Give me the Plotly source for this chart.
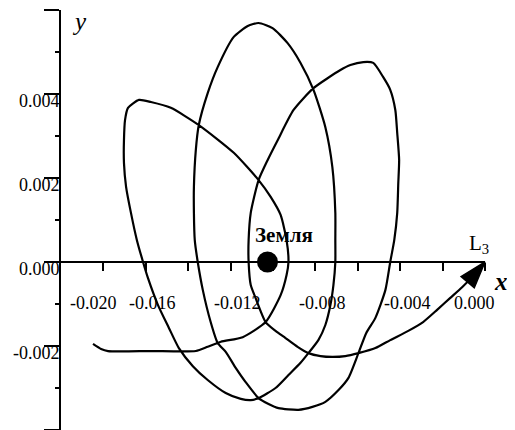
import plotly.graph_objects as go

# ---- data ----
traj_x = [-0.01849, -0.01811, -0.01778, -0.01576, -0.01364, -0.01308, -0.01246, -0.01143,
          -0.01035, -0.00964, -0.00936, -0.00927, -0.00936, -0.00964, -0.01011, -0.01068,
          -0.01185, -0.01350, -0.01482, -0.01576, -0.01632, -0.01684, -0.01698, -0.01703,
          -0.01703, -0.01693, -0.01670, -0.01642, -0.01613, -0.01590, -0.01543, -0.01491,
          -0.01444, -0.01378, -0.01308, -0.01223, -0.01152, -0.01105, -0.01068, -0.00988,
          -0.00927, -0.00870, -0.00833, -0.00786, -0.00753, -0.00729, -0.00715, -0.00706,
          -0.00706, -0.00706, -0.00720, -0.00753, -0.00809, -0.00870, -0.00931, -0.01002,
          -0.01068, -0.01119, -0.01185, -0.01261, -0.01308, -0.01350, -0.01364, -0.01373,
          -0.01373, -0.01369, -0.01355, -0.01331, -0.01294, -0.01261, -0.01223, -0.01176,
          -0.01129, -0.01068, -0.01021, -0.00974, -0.00880, -0.00814, -0.00753, -0.00691,
          -0.00644, -0.00597, -0.00560, -0.00517, -0.00470, -0.00447, -0.00428, -0.00414,
          -0.00409, -0.00405, -0.00414, -0.00423, -0.00447, -0.00480, -0.00527, -0.00574,
          -0.00635, -0.00682, -0.00809, -0.00903, -0.00978, -0.01025, -0.01068, -0.01105,
          -0.01115, -0.01115, -0.01105, -0.01082, -0.01035, -0.00988, -0.00941, -0.00884,
          -0.00833, -0.00776, -0.00720, -0.00659, -0.00597, -0.00517, -0.00447, -0.00362,
          -0.00292, -0.00226, -0.00165, -0.00108, -0.00061, 0.00000]
traj_y = [-0.00195, -0.00207, -0.00212, -0.00212, -0.00212, -0.00202, -0.00190, -0.00179,
          -0.00143, -0.00079, -0.00031, 0.00000, 0.00052, 0.00112, 0.00155, 0.00195,
          0.00260, 0.00326, 0.00367, 0.00381, 0.00386, 0.00367, 0.00338, 0.00290,
          0.00236, 0.00179, 0.00117, 0.00052, 0.00000, -0.00038, -0.00102, -0.00157,
          -0.00205, -0.00248, -0.00281, -0.00312, -0.00326, -0.00329, -0.00324, -0.00300,
          -0.00269, -0.00240, -0.00217, -0.00186, -0.00150, -0.00102, -0.00055, 0.00000,
          0.00052, 0.00117, 0.00226, 0.00321, 0.00410, 0.00474, 0.00521, 0.00557,
          0.00569, 0.00562, 0.00536, 0.00464, 0.00402, 0.00326, 0.00267, 0.00179,
          0.00117, 0.00052, 0.00000, -0.00067, -0.00143, -0.00193, -0.00214, -0.00252,
          -0.00286, -0.00324, -0.00338, -0.00348, -0.00352, -0.00345, -0.00333, -0.00305,
          -0.00276, -0.00217, -0.00169, -0.00133, -0.00067, 0.00000, 0.00052, 0.00117,
          0.00188, 0.00243, 0.00307, 0.00362, 0.00410, 0.00440, 0.00474, 0.00476,
          0.00469, 0.00457, 0.00414, 0.00362, 0.00290, 0.00243, 0.00195, 0.00117,
          0.00052, 0.00000, -0.00055, -0.00086, -0.00143, -0.00164, -0.00181, -0.00202,
          -0.00217, -0.00224, -0.00226, -0.00224, -0.00217, -0.00205, -0.00186, -0.00164,
          -0.00143, -0.00114, -0.00086, -0.00060, -0.00036, 0.00000]

earth_x = -0.01026
earth_y = 0.0
earth_label = "Земля"
l3_x = 0.0
l3_y = 0.0
l3_label = "L<sub>3</sub>"

xtick_vals = [-0.018, -0.016, -0.014, -0.012, -0.010, -0.008, -0.006, -0.004, -0.002, 0.000]
xlabel_vals = [-0.020, -0.016, -0.012, -0.008, -0.004, 0.000]
xlabel_text = ["-0.020", "-0.016", "-0.012", "-0.008", "-0.004", "0.000"]
ytick_vals = [-0.004, -0.002, 0.000, 0.002, 0.004, 0.006]
ytick_text = ["-0.004", "-0.002", "0.000", "0.002", "0.004", ""]
yminor_vals = [-0.003, -0.001, 0.001, 0.003, 0.005]

SERIF = "Liberation Serif, Times New Roman, serif"
X_RANGE = [-0.0200, 0.0]
Y_RANGE = [-0.004, 0.006]

fig = go.Figure()
fig.add_trace(go.Scatter(
    x=traj_x, y=traj_y, mode="lines",
    line=dict(color="black", width=2.2, shape="spline", smoothing=0.6),
    hoverinfo="skip", showlegend=False))
# arrow head at the end of the trajectory
fig.add_trace(go.Scatter(
    x=traj_x[-2:], y=traj_y[-2:], mode="markers",
    marker=dict(symbol="arrow", size=[0, 28], angleref="previous", color="#000000",
                opacity=1, line=dict(width=1.5, color="#000000")),
    opacity=1,
    hoverinfo="skip", showlegend=False, cliponaxis=False))
# Earth
fig.add_trace(go.Scatter(
    x=[earth_x], y=[earth_y], mode="markers",
    marker=dict(size=21, color="black"),
    hoverinfo="skip", showlegend=False))

annotations = []
n = len(xlabel_vals)
for i, (v, t) in enumerate(zip(xlabel_vals, xlabel_text)):
    if i == 0:
        anchor, shift = "left", 7
    elif i == n - 1:
        anchor, shift = "right", 12
    else:
        anchor, shift = "center", 7
    annotations.append(dict(x=v, y=0, xref="x", yref="y", text=t, showarrow=False,
                            xanchor=anchor, yanchor="middle", xshift=shift, yshift=-41,
                            font=dict(family=SERIF, size=18, color="black")))
annotations.append(dict(x=earth_x, y=earth_y, text="<b>" + earth_label + "</b>", showarrow=False,
                        xanchor="center", yanchor="middle", xshift=17, yshift=27,
                        font=dict(family=SERIF, size=21, color="black")))
annotations.append(dict(x=l3_x, y=l3_y, text=l3_label, showarrow=False,
                        xanchor="center", yanchor="middle", xshift=-6, yshift=18,
                        font=dict(family=SERIF, size=21, color="black")))
annotations.append(dict(x=l3_x, y=l3_y, text="<b><i>x</i></b>", showarrow=False,
                        xanchor="center", yanchor="middle", xshift=16, yshift=-19,
                        font=dict(family=SERIF, size=25, color="black")))
annotations.append(dict(x=X_RANGE[0], y=Y_RANGE[1], text="<i>y</i>", showarrow=False,
                        xanchor="center", yanchor="middle", xshift=18, yshift=-11,
                        font=dict(family=SERIF, size=25, color="black")))

# the page body adds an 8 px offset, so the figure is 8 px smaller than the window
fig.update_layout(
    width=507, height=422,
    margin=dict(l=53, r=30, t=2, b=0, autoexpand=False),
    paper_bgcolor="white", plot_bgcolor="white",
    showlegend=False,
    annotations=annotations,
    xaxis=dict(range=X_RANGE, anchor="free", position=0.4, automargin=False,
               showline=True, linecolor="black", linewidth=2,
               ticks="outside", ticklen=8, tickwidth=2, tickcolor="black",
               tickvals=xtick_vals, showticklabels=False,
               showgrid=False, zeroline=False),
    yaxis=dict(range=Y_RANGE, automargin=False,
               showline=True, linecolor="black", linewidth=2,
               ticks="outside", ticklen=15, tickwidth=1.5, tickcolor="black",
               tickvals=ytick_vals, ticktext=ytick_text,
               ticklabelstandoff=-19, ticklabelshift=7,
               tickfont=dict(family=SERIF, size=18, color="black"),
               minor=dict(ticks="outside", ticklen=4, tickwidth=1.5, tickcolor="black",
                          tickvals=yminor_vals),
               showgrid=False, zeroline=False),
)

fig.write_html("out.html")
